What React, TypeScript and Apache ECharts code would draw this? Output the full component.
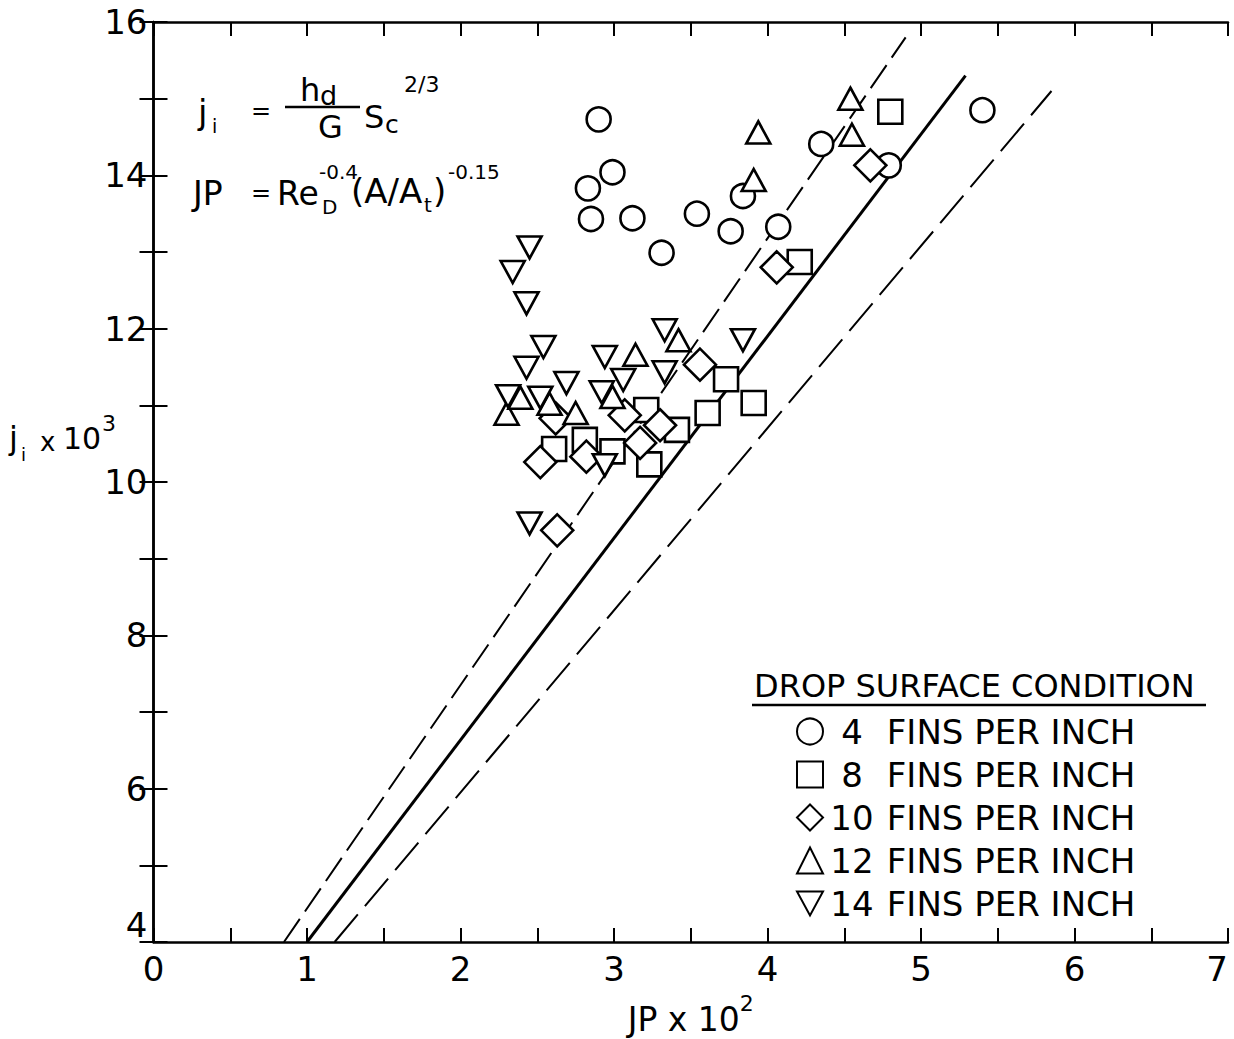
import React, { useEffect, useRef } from "react";
import * as echarts from "echarts";

const FONT = "'DejaVu Sans', 'Liberation Sans', sans-serif";
const INK = "#000";

// ---- data (x = JP x 10^2, y = j_i x 10^3) ----
const fins4: number[][] = [
  [2.90, 14.73], [2.83, 13.83], [2.99, 14.04], [2.85, 13.43], [3.12, 13.44],
  [3.31, 12.99], [3.54, 13.50], [3.76, 13.27], [3.84, 13.73], [4.07, 13.33],
  [4.35, 14.41], [4.79, 14.13], [5.40, 14.85],
];
const fins8: number[][] = [
  [2.61, 10.43], [2.81, 10.55], [2.99, 10.40], [3.21, 10.94], [3.23, 10.23],
  [3.41, 10.68], [3.61, 10.90], [3.73, 11.34], [3.91, 11.03], [4.21, 12.87],
  [4.80, 14.83],
];
const fins10: number[][] = [
  [2.62, 10.83], [2.52, 10.26], [2.82, 10.33], [2.63, 9.37], [3.56, 11.53],
  [3.07, 10.87], [3.17, 10.51], [3.30, 10.74], [4.06, 12.80], [4.67, 14.13],
];
const fins12: number[][] = [
  [3.94, 14.56], [3.91, 13.94], [4.54, 15.00], [4.55, 14.53], [3.14, 11.66],
  [3.42, 11.85], [2.30, 10.89], [2.39, 11.10], [2.75, 10.90], [2.99, 11.11],
  [2.58, 11.02],
];
const fins14: number[][] = [
  [2.45, 13.06], [2.34, 12.74], [2.43, 12.33], [2.54, 11.76], [2.43, 11.49],
  [2.69, 11.29], [2.94, 11.63], [3.06, 11.33], [3.33, 11.43], [3.33, 11.98],
  [3.84, 11.85], [2.31, 11.12], [2.52, 11.10], [2.92, 11.17], [2.94, 10.22],
  [2.45, 9.46],
];

const solidLine: number[][] = [[1.0, 4], [5.29, 15.3]];
const upperDashed: number[][] = [[0.85, 4], [4.9, 15.8]];
const lowerDashed: number[][] = [[1.18, 4], [5.85, 15.1]];

const seriesNames = [
  "4 FINS PER INCH",
  "8 FINS PER INCH",
  "10 FINS PER INCH",
  "12 FINS PER INCH",
  "14 FINS PER INCH",
];

const xRange = [0, 7];
const yRange = [4, 16];

const DOWN_TRI = "path://M0,0L24,0L12,22Z";

function txt(x: number, y: number, text: string, size: number, align = "left") {
  return {
    type: "text",
    x,
    y,
    silent: true,
    style: {
      text,
      fontSize: size,
      fontFamily: FONT,
      fill: INK,
      align,
      verticalAlign: "middle",
      textAlign: align,
      textVerticalAlign: "middle",
    },
  };
}

function hline(x1: number, x2: number, y: number, w: number) {
  return {
    type: "line",
    silent: true,
    shape: { x1, y1: y, x2, y2: y },
    style: { stroke: INK, lineWidth: w },
  };
}

export default function App() {
  const ref = useRef<HTMLDivElement>(null);

  useEffect(() => {
    if (!ref.current) return;
    const chart = echarts.init(ref.current, null, { renderer: "svg" });

    const markerStyle = { color: "#fff", borderColor: INK, borderWidth: 2.6, opacity: 1 };
    const isInt = (v: number) => Math.abs(v - Math.round(v)) < 1e-6;
    const isEven = (v: number) => isInt(v) && Math.round(v) % 2 === 0;

    const axisLine = { show: true, lineStyle: { color: INK, width: 2.5 } };
    const axisTick = { show: true, inside: true, length: 14, lineStyle: { color: INK, width: 2 } };

    const scatter = (name: string, data: number[][], symbol: string, size: any, rotate = 0) => ({
      type: "scatter",
      name,
      data,
      symbol,
      symbolSize: size,
      symbolRotate: rotate,
      itemStyle: markerStyle,
      z: 3,
      silent: true,
    });

    const line = (data: number[][], type: any, width: number) => ({
      type: "line",
      data,
      showSymbol: false,
      silent: true,
      z: 2,
      lineStyle: { color: INK, width, type },
    });

    chart.setOption({
      animation: false,
      backgroundColor: "#fff",
      grid: {
        left: 153.5,
        right: 6,
        top: 22,
        bottom: 97,
        containLabel: false,
        outerBoundsMode: "none",
      },
      xAxis: [
        {
          type: "value",
          min: xRange[0],
          max: xRange[1],
          interval: 0.5,
          position: "bottom",
          axisLine,
          axisTick,
          splitLine: { show: false },
          axisLabel: {
            formatter: (v: number) => (isInt(v) ? String(Math.round(v)) : ""),
            fontSize: 34,
            fontFamily: FONT,
            color: INK,
            margin: 10,
            alignMaxLabel: "right",
          },
          name: "{a|JP x 10}{p|2}",
          nameLocation: "middle",
          nameGap: 50,
          nameTextStyle: {
            rich: {
              a: { fontSize: 33, fontFamily: FONT, color: INK, lineHeight: 44, verticalAlign: "bottom" },
              p: { fontSize: 22, fontFamily: FONT, color: INK, lineHeight: 44, verticalAlign: "top" },
            },
          },
        },
        {
          type: "value",
          min: xRange[0],
          max: xRange[1],
          interval: 0.5,
          position: "top",
          axisLine,
          axisTick,
          splitLine: { show: false },
          axisLabel: { show: false },
        },
      ],
      yAxis: [
        {
          type: "value",
          min: yRange[0],
          max: yRange[1],
          interval: 1,
          position: "left",
          axisLine,
          axisTick,
          splitLine: { show: false },
          axisLabel: {
            formatter: (v: number) => (isEven(v) ? String(Math.round(v)) : ""),
            fontSize: 34,
            fontFamily: FONT,
            color: INK,
            margin: 6,
            verticalAlignMinLabel: "bottom",
          },
        },
        {
          type: "value",
          min: yRange[0],
          max: yRange[1],
          interval: 1,
          position: "right",
          axisLine,
          axisTick,
          splitLine: { show: false },
          axisLabel: { show: false },
        },
      ],
      legend: {
        data: [
          { name: seriesNames[0] },
          { name: seriesNames[1] },
          { name: seriesNames[2] },
          { name: seriesNames[3] },
          { name: seriesNames[4], icon: DOWN_TRI },
        ],
        orient: "vertical",
        left: 791,
        top: 709,
        itemWidth: 26,
        itemHeight: 26,
        itemGap: 8,
        selectedMode: false,
        formatter: (name: string) => {
          const parts = name.split(" ");
          return `{n|${parts[0]}}{t| ${parts.slice(1).join(" ")}}`;
        },
        textStyle: {
          fontSize: 34,
          fontFamily: FONT,
          color: INK,
          lineHeight: 35,
          rich: {
            n: { width: 48, align: "right", fontSize: 34, fontFamily: FONT, color: INK, lineHeight: 35 },
            t: { fontSize: 34, fontFamily: FONT, color: INK, lineHeight: 35 },
          },
        },
      },
      series: [
        line(upperDashed, [28, 9], 2),
        line(solidLine, "solid", 3),
        line(lowerDashed, [36, 11], 2),
        scatter(seriesNames[0], fins4, "circle", 24),
        scatter(seriesNames[1], fins8, "rect", 24),
        scatter(seriesNames[2], fins10, "diamond", 32),
        scatter(seriesNames[3], fins12, "triangle", [24, 22]),
        scatter(seriesNames[4], fins14, "triangle", [24, 22], 180),
      ],
      graphic: [
        // y-axis name  j_i x 10^3
        txt(9, 438, "j", 32),
        txt(21, 454, "i", 18),
        txt(40, 442, "x", 26),
        txt(63, 438, "10", 30),
        txt(102, 423, "3", 22),
        // formula 1
        txt(198, 112, "j", 34),
        txt(212, 126, "i", 19),
        txt(251, 111, "=", 24),
        txt(300, 90, "h", 32),
        txt(320, 95, "d", 27),
        hline(285, 360, 107, 2.5),
        txt(318, 127, "G", 32),
        txt(364, 117, "S", 32),
        txt(385, 124, "c", 25),
        txt(404, 84, "2/3", 22),
        // formula 2
        txt(193, 193, "JP", 33),
        txt(251, 193, "=", 24),
        txt(277, 193, "Re", 33),
        txt(319, 172, "-0.4", 20),
        txt(322, 207, "D", 20),
        txt(351, 191, "(A/A", 34),
        txt(424, 205, "t", 20),
        txt(433, 191, ")", 34),
        txt(448, 172, "-0.15", 20),
        // legend title
        txt(754, 686, "DROP SURFACE CONDITION", 32),
        hline(752, 1206, 705, 2.5),
      ],
    });

    return () => chart.dispose();
  }, []);

  return (
    <div
      ref={ref}
      style={{ position: "absolute", left: 0, top: 0, width: 1234, height: 1039, background: "#fff" }}
    />
  );
}
